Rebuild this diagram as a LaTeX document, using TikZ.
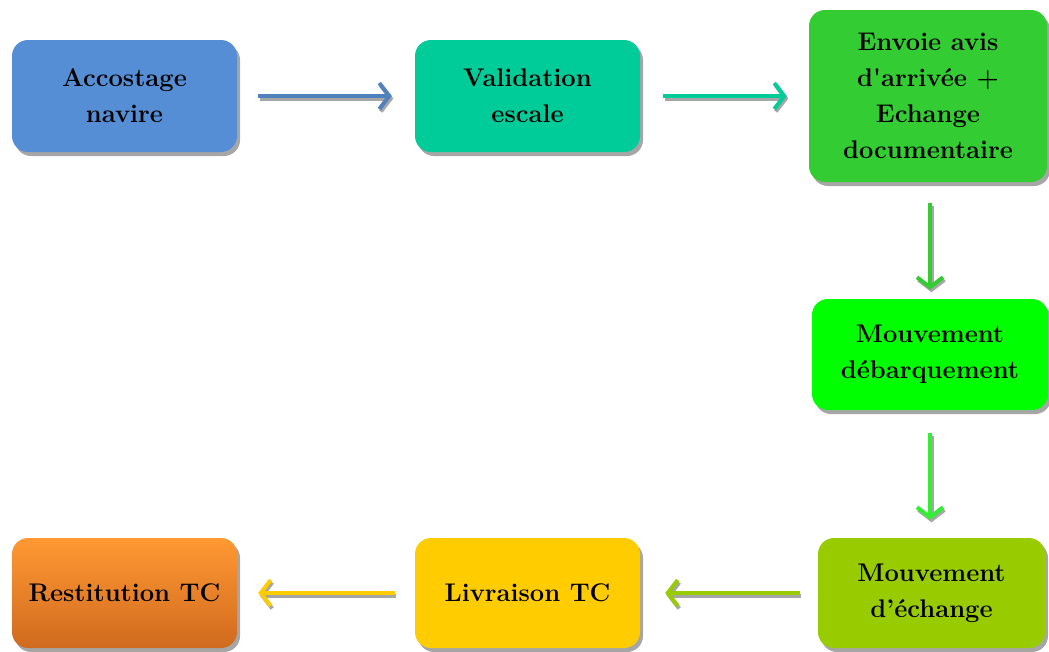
\documentclass[tikz,border=0pt]{standalone}
\usetikzlibrary{arrows.meta,shadows}
\definecolor{cblue}{HTML}{558ED5}
\definecolor{cteal}{HTML}{00CC99}
\definecolor{cgreen}{HTML}{33CC33}
\definecolor{clime}{HTML}{00FF00}
\definecolor{colive}{HTML}{99CC00}
\definecolor{cyellow}{HTML}{FFCC00}
\definecolor{corangeT}{HTML}{FF9933}
\definecolor{corangeB}{HTML}{D06A1E}
\definecolor{ablue}{HTML}{4F81BD}
\definecolor{alime}{HTML}{33EE33}
\definecolor{shadowgray}{HTML}{A6A6A6}
\tikzset{
  stepbox/.style={rounded corners=16pt, draw=none, align=center,
    font=\bfseries\fontsize{25.5}{36}\selectfont, text=black,
    minimum width=225pt, minimum height=112pt, inner sep=0pt,
    drop shadow={shadow xshift=3pt, shadow yshift=-4pt, opacity=1, fill=shadowgray}},
  flow/.style={line width=4pt, draw=#1, -{Straight Barb[length=10pt,width=26pt]},
    preaction={draw=shadowgray, line width=4pt, -{Straight Barb[length=10pt,width=26pt]},
      transform canvas={xshift=1.5pt, yshift=-2.5pt}}},
}
\begin{document}
\begin{tikzpicture}[x=1pt, y=-1pt]
  \useasboundingbox (0,0) rectangle (1049,651);

  % process steps
  \node[stepbox, fill=cblue] (acc) at (124.5,96) {Accostage\\navire};
  \node[stepbox, fill=cteal] (val) at (527.5,96) {Validation\\escale};
  \node[stepbox, fill=cgreen, minimum width=238pt, minimum height=172pt] (env) at (928,96)
    {Envoie avis\\d\textquotesingle arrivée +\\Echange\\documentaire};
  \node[stepbox, fill=clime, minimum width=236pt, minimum height=111pt] (deb) at (930,354.5)
    {Mouvement\\débarquement};
  \node[stepbox, fill=colive, minimum width=227pt, minimum height=110pt] (ech) at (931.5,593)
    {Mouvement\\d’échange};
  \node[stepbox, fill=cyellow, minimum height=110pt] (liv) at (527.5,593) {Livraison TC};
  \node[stepbox, top color=corangeT, bottom color=corangeB, minimum height=110pt] (res) at (124.5,593)
    {Restitution TC};

  % flow between steps
  \draw[flow=ablue, shorten <=21pt, shorten >=23pt] (acc) -- (val);
  \draw[flow=cteal, shorten <=23pt, shorten >=22pt] (val) -- (env);
  \draw[flow=cgreen, shorten <=21pt, shorten >=9pt] (env.south -| deb.north) -- (deb.north);
  \draw[flow=alime, shorten <=23pt, shorten >=18pt] (deb.south) -- (deb.south |- ech.north);
  \draw[flow=colive, shorten <=18pt, shorten >=25pt] (ech) -- (liv);
  \draw[flow=cyellow, shorten <=20pt, shorten >=21pt] (liv) -- (res);
\end{tikzpicture}
\end{document}
